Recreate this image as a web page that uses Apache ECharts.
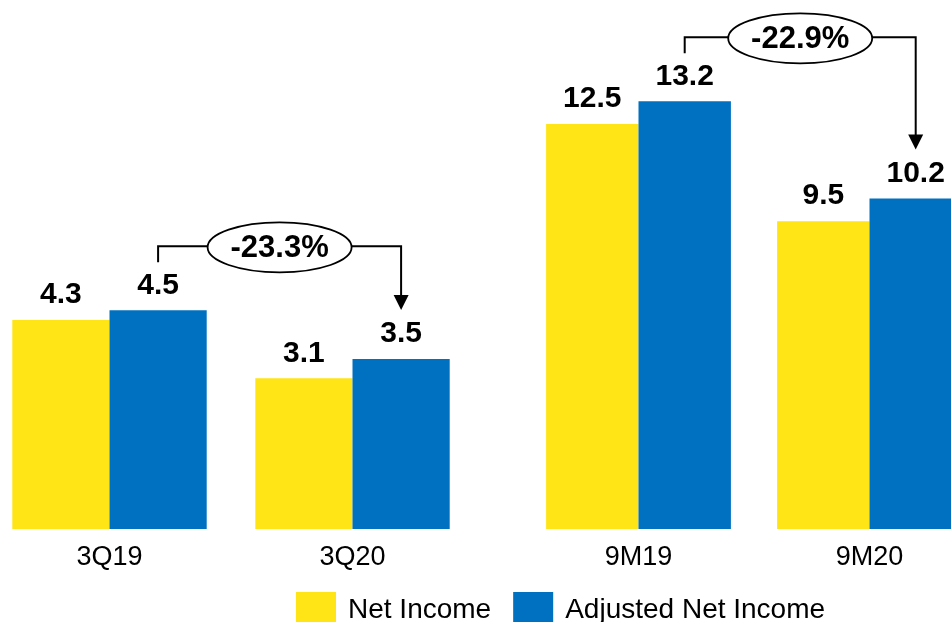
<!DOCTYPE html>
<html>
<head>
<meta charset="utf-8">
<script src="https://cdn.jsdelivr.net/npm/echarts@6/dist/echarts.min.js"></script>
<style>
  html, body { margin: 0; padding: 0; background: #fff; }
  #chart { width: 951px; height: 622px; }
</style>
</head>
<body>
<div id="chart"></div>
<script>
// data
const quarterCats = ['3Q19', '3Q20'];
const nineMonthCats = ['9M19', '9M20'];
const netIncomeQ = [4.3, 3.1];
const adjustedQ = [4.5, 3.5];
const netIncome9M = [12.5, 9.5];
const adjusted9M = [13.2, 10.2];
const changeLabels = ['-23.3%', '-22.9%'];

const YELLOW = '#FFE516';
const BLUE = '#0070C0';
const FONT = '"Liberation Sans", Arial, sans-serif';

const chart = echarts.init(document.getElementById('chart'), null, { renderer: 'canvas' });

const valueLabel = {
  show: true,
  position: 'top',
  distance: 10,
  color: '#000',
  fontFamily: FONT,
  fontWeight: 'bold',
  fontSize: 30
};

function catAxis(idx, cats) {
  return {
    type: 'category',
    gridIndex: idx,
    data: cats,
    axisLine: { show: false },
    axisTick: { show: false },
    axisLabel: { color: '#000', fontFamily: FONT, fontSize: 27, margin: 15 }
  };
}

function valAxis(idx, max) {
  return {
    type: 'value',
    gridIndex: idx,
    min: 0,
    max: max,
    show: false,
    splitLine: { show: false }
  };
}

function barSeries(name, idx, color, data) {
  return {
    name: name,
    type: 'bar',
    xAxisIndex: idx,
    yAxisIndex: idx,
    data: data,
    barWidth: '40%',
    barGap: '0%',
    itemStyle: { color: color },
    label: valueLabel,
    animation: false
  };
}

chart.setOption({
  animation: false,
  grid: [
    { left: -12, width: 486, top: 43, bottom: 93, outerBoundsMode: 'none', containLabel: false },
    { left: 523, width: 462, top: 43, bottom: 93, outerBoundsMode: 'none', containLabel: false }
  ],
  legend: {
    data: ['Net Income', 'Adjusted Net Income'],
    left: 296,
    top: 592,
    icon: 'rect',
    itemWidth: 40,
    itemHeight: 36,
    itemGap: 22,
    padding: 0,
    textStyle: { color: '#000', fontFamily: FONT, fontSize: 28, padding: [0, 0, 0, 7] }
  },
  xAxis: [catAxis(0, quarterCats), catAxis(1, nineMonthCats)],
  yAxis: [valAxis(0, 10), valAxis(1, 15)],
  series: [
    barSeries('Net Income', 0, YELLOW, netIncomeQ),
    barSeries('Adjusted Net Income', 0, BLUE, adjustedQ),
    barSeries('Net Income', 1, YELLOW, netIncome9M),
    barSeries('Adjusted Net Income', 1, BLUE, adjusted9M)
  ]
});

// change annotations: bracket from first blue bar to the second, with ellipse label
function blueTop(gridIndex, cats, i, value) {
  const p0 = chart.convertToPixel({ gridIndex: gridIndex }, [cats[0], 0]);
  const p1 = chart.convertToPixel({ gridIndex: gridIndex }, [cats[1], 0]);
  const band = p1[0] - p0[0];
  const p = chart.convertToPixel({ gridIndex: gridIndex }, [cats[i], value]);
  return [p[0] + band * 0.2, p[1]];
}

function bracket(gridIndex, cats, values, text) {
  const a = blueTop(gridIndex, cats, 0, values[0]);
  const b = blueTop(gridIndex, cats, 1, values[1]);
  const lineY = a[1] - 64;
  const tipY = b[1] - 49;
  const midX = (a[0] + b[0]) / 2;
  return [
    {
      type: 'polyline',
      shape: { points: [[a[0], a[1] - 48], [a[0], lineY], [b[0], lineY], [b[0], tipY - 14]] },
      style: { stroke: '#000', lineWidth: 2, fill: null }
    },
    {
      type: 'polygon',
      shape: { points: [[b[0] - 7.5, tipY - 15], [b[0] + 7.5, tipY - 15], [b[0], tipY]] },
      style: { fill: '#000' }
    },
    {
      type: 'ellipse',
      shape: { cx: midX, cy: lineY + 1, rx: 72, ry: 25 },
      style: { fill: '#fff', stroke: '#000', lineWidth: 1.8 }
    },
    {
      type: 'text',
      x: midX,
      y: lineY + 2,
      style: {
        text: text,
        fill: '#000',
        font: 'bold 31px ' + FONT,
        textAlign: 'center',
        textVerticalAlign: 'middle'
      }
    }
  ];
}

chart.setOption({
  graphic: [].concat(
    bracket(0, quarterCats, adjustedQ, changeLabels[0]),
    bracket(1, nineMonthCats, adjusted9M, changeLabels[1])
  )
});
</script>
</body>
</html>
